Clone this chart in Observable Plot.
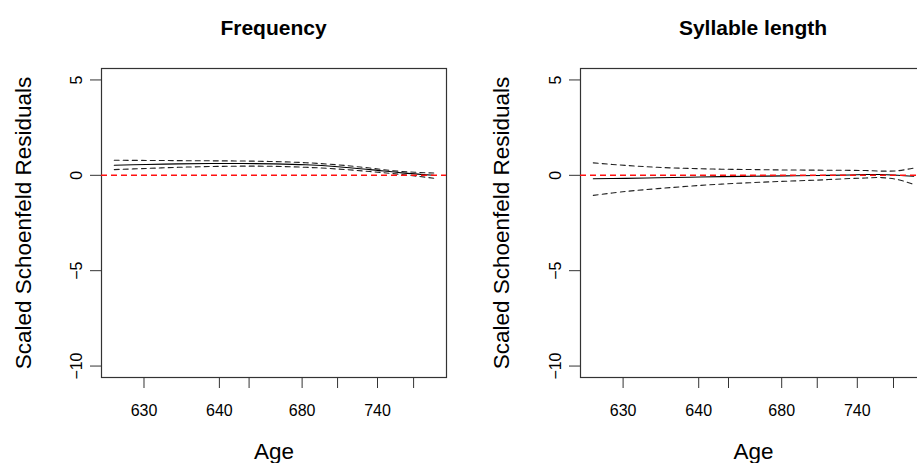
<!DOCTYPE html>
<html>
<head>
<meta charset="utf-8">
<script src="https://cdn.jsdelivr.net/npm/d3@7"></script>
<script src="https://cdn.jsdelivr.net/npm/@observablehq/plot@0.6"></script>
<style>
  html, body { margin: 0; padding: 0; background: #fff; }
  #wrap { position: relative; width: 917px; height: 463px; overflow: hidden; font-family: "Liberation Sans", Arial, Helvetica, sans-serif; }
  .panel { position: absolute; top: 0; }
  .panel svg { max-width: none !important; overflow: visible; }
  .title { position: absolute; top: 17px; font-weight: bold; font-size: 21px; line-height: 21px; text-align: center; color: #000; white-space: nowrap; }
  g[aria-label="x-axis label"] text, g[aria-label="y-axis label"] text,
  g[aria-label="x-axis label"], g[aria-label="y-axis label"] { font-size: 22.5px; }
</style>
</head>
<body>
<div id="wrap"></div>
<script>
// ---- Data (transformed time, 0..1) ----
const freqT     = [0, 0.1, 0.2, 0.3, 0.4, 0.5, 0.6, 0.7, 0.8, 0.9, 1.0];
const freqFit   = [0.53, 0.57, 0.60, 0.62, 0.62, 0.60, 0.55, 0.45, 0.30, 0.13, 0.00];
const freqUpper = [0.79, 0.78, 0.77, 0.76, 0.75, 0.72, 0.66, 0.55, 0.38, 0.20, 0.12];
const freqLower = [0.30, 0.36, 0.42, 0.46, 0.48, 0.47, 0.42, 0.33, 0.20, 0.04, -0.15];

const sylT     = [0, 0.1, 0.2, 0.3, 0.4, 0.5, 0.6, 0.7, 0.8, 0.85, 0.9, 0.95, 1.0];
const sylFit   = [-0.18, -0.16, -0.13, -0.10, -0.07, -0.05, -0.03, -0.01, 0.02, 0.04, 0.04, 0.00, -0.05];
const sylUpper = [0.65, 0.52, 0.42, 0.36, 0.32, 0.30, 0.28, 0.27, 0.26, 0.25, 0.22, 0.24, 0.38];
const sylLower = [-1.05, -0.85, -0.70, -0.57, -0.46, -0.38, -0.31, -0.25, -0.17, -0.14, -0.12, -0.22, -0.48];

const xTickPos    = [0.093, 0.329, 0.422, 0.588, 0.699, 0.824, 0.937];
const xTickLabels = ["630", "640", "", "680", "", "740", ""];
const yTicks      = [-10, -5, 0, 5];

const titles = ["Frequency", "Syllable length"];
const xLabel = "Age";
const yLabel = "Scaled Schoenfeld Residuals";

const tickLabelMap = new Map(xTickPos.map((p, i) => [p, xTickLabels[i]]));

function rows(t, fit, upper, lower) {
  return t.map((d, i) => ({t: d, fit: fit[i], upper: upper[i], lower: lower[i]}));
}

function panel({data, width, marginLeft, marginRight, yLabelOffset}) {
  return Plot.plot({
    width, height: 463,
    marginTop: 68, marginBottom: 86, marginLeft, marginRight,
    style: {fontFamily: '"Liberation Sans", Arial, Helvetica, sans-serif', fontSize: "16px", color: "#000", background: "transparent", overflow: "visible", maxWidth: "none"},
    x: {domain: [-0.04, 1.04]},
    y: {domain: [-10.6, 5.6]},
    marks: [
      Plot.frame({stroke: "#333", strokeWidth: 1.2}),
      Plot.line(data, {x: "t", y: "upper", stroke: "#222", strokeWidth: 1.1, strokeDasharray: "5,4", curve: "catmull-rom"}),
      Plot.line(data, {x: "t", y: "lower", stroke: "#222", strokeWidth: 1.1, strokeDasharray: "5,4", curve: "catmull-rom"}),
      Plot.line(data, {x: "t", y: "fit", stroke: "#000", strokeWidth: 1.1, curve: "catmull-rom"}),
      Plot.ruleY([0], {stroke: "#ff1010", strokeWidth: 1.5, strokeDasharray: "6,4"}),
      // y ticks (no text)
      Plot.axisY({ticks: yTicks, tickSize: 11, tickFormat: () => "", stroke: "#333", label: null}),
      // y tick labels, rotated, plus axis label
      Plot.axisY({ticks: yTicks, tickSize: 0, tickPadding: 20, rotate: -90, textAnchor: "middle", lineAnchor: "bottom",
                  fontSize: 16, label: yLabel, labelAnchor: "center", labelOffset: yLabelOffset, labelArrow: "none"}),
      Plot.axisX({ticks: xTickPos, tickFormat: d => tickLabelMap.get(d), tickSize: 11, tickPadding: 16, fontSize: 16,
                  stroke: "#333", label: xLabel, labelAnchor: "center", labelOffset: 81, labelArrow: "none"})
    ]
  });
}

const wrap = document.getElementById("wrap");
const configs = [
  {left: 0, width: 458, marginLeft: 101, marginRight: 12, yLabelOffset: 86, data: rows(freqT, freqFit, freqUpper, freqLower)},
  {left: 458, width: 480, marginLeft: 122, marginRight: 12, yLabelOffset: 87, data: rows(sylT, sylFit, sylUpper, sylLower)}
];
configs.forEach((c, i) => {
  const div = document.createElement("div");
  div.className = "panel";
  div.style.left = c.left + "px";
  div.style.width = c.width + "px";
  div.appendChild(panel(c));
  wrap.appendChild(div);
  const title = document.createElement("div");
  title.className = "title";
  const frameLeft = c.left + c.marginLeft;
  const frameRight = c.left + c.width - c.marginRight;
  title.style.left = frameLeft + "px";
  title.style.width = (frameRight - frameLeft) + "px";
  title.textContent = titles[i];
  wrap.appendChild(title);
});
</script>
</body>
</html>
